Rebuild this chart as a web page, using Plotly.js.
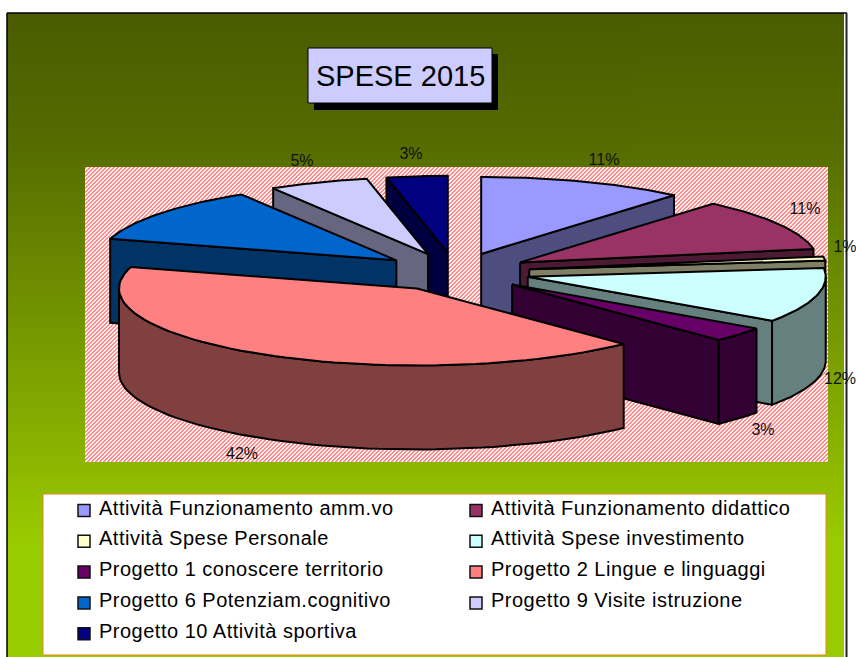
<!DOCTYPE html>
<html><head><meta charset="utf-8">
<script src="https://cdn.plot.ly/plotly-3.0.1.min.js"></script>
<style>html,body{margin:0;padding:0;background:#fff}#c{width:856px;height:657px}</style></head>
<body><div id="c"></div>
<script>
const categories=["Attività Funzionamento amm.vo","Attività Funzionamento didattico","Attività Spese Personale","Attività Spese investimento","Progetto 1 conoscere territorio","Progetto 2 Lingue e linguaggi","Progetto 6 Potenziam.cognitivo","Progetto 9 Visite istruzione","Progetto 10 Attività sportiva"];
const values=[11.2,11.0,1.0,11.5,3.1,41.7,11.8,5.4,3.3];
const shownLabels=[true,true,true,true,true,true,false,true,true];
const topColors=["#9999FF","#993366","#FFFFCC","#CCFFFF","#660066","#FF8080","#0066CC","#CCCCFF","#000080"];
const sideColors=["#4D4D80","#4D1A33","#808066","#668080","#330033","#804040","#003366","#666680","#000040"];
const labelAnchors=[[604,161],[805,210],[845,248],[840,380],[763,431],[242,455],[0,0],[302,162],[411,155]];
const drawOrder=[8,7,6,0,1,2,3,4,5];

const cx=455.5,cy=272,rx=298,ry=77,depth=84,explode=0.25;
const traces=[];
function face(pts,color){
  const c=pts.concat([pts[0]]);
  traces.push({type:"scatter",mode:"lines",x:c.map(p=>p[0]),y:c.map(p=>p[1]),fill:"toself",fillcolor:color,
    line:{color:"#000",width:2,shape:"linear"},hoverinfo:"skip",showlegend:false});
}
const rad=p=>p/100*2*Math.PI;
const total=values.reduce((a,b)=>a+b,0);
const starts=[];let acc=0;values.forEach(v=>{starts.push(acc);acc+=v/total*100;});
function slice(i){
  const p0=starts[i],p1=p0+values[i]/total*100,tm=rad((p0+p1)/2);
  const ax=cx+explode*rx*Math.sin(tm),ay=cy-explode*ry*Math.cos(tm);
  const pt=t=>[ax+rx*Math.sin(t),ay-ry*Math.cos(t)];
  const t0=rad(p0),t1=rad(p1);
  const down=p=>[p[0],p[1]+depth];
  const wall=(q)=>face([[ax,ay],q,down(q),[ax,ay+depth]],sideColors[i]);
  if(t0>Math.PI) wall(pt(t0));
  if(t1<Math.PI) wall(pt(t1));
  const a0=Math.max(t0,Math.PI/2),a1=Math.min(t1,1.5*Math.PI);
  if(a1>a0){
    const arc=[];const n=60;
    for(let k=0;k<=n;k++)arc.push(pt(a0+(a1-a0)*k/n));
    face(arc.concat(arc.slice().reverse().map(down)),sideColors[i]);
  }
  const topPts=[[ax,ay]];const n=60;
  for(let k=0;k<=n;k++)topPts.push(pt(t0+(t1-t0)*k/n));
  face(topPts,topColors[i]);
}
drawOrder.forEach(slice);

/* data labels */
const lbl=categories.map((c,i)=>i).filter(i=>shownLabels[i]);
traces.push({type:"scatter",mode:"text",x:lbl.map(i=>labelAnchors[i][0]),y:lbl.map(i=>labelAnchors[i][1]),
  text:lbl.map(i=>Math.round(values[i])+"%"),textposition:"middle center",cliponaxis:false,
  textfont:{family:"Liberation Sans, Arial, sans-serif",size:16,color:"#111"},hoverinfo:"skip",showlegend:false});

/* legend */
categories.forEach((c,i)=>{
  const col=i%2,row=Math.floor(i/2);
  traces.push({type:"scatter",mode:"markers",x:[col?476:84],y:[510.5+row*30.8],
    marker:{symbol:"square",size:12,color:topColors[i],line:{color:"#111",width:1.5}},
    hoverinfo:"skip",showlegend:false,cliponaxis:false});
  traces.push({type:"scatter",mode:"text",x:[col?491:99],y:[509.5+row*30.8],text:[c],textposition:"middle right",
    textfont:{family:"Liberation Sans, Arial, sans-serif",size:20,color:"#000"},hoverinfo:"skip",showlegend:false,cliponaxis:false});
});

function bg(){
  const k=document.createElement("canvas");k.width=2;k.height=644;const g=k.getContext("2d");
  const l=g.createLinearGradient(0,0,0,644);
  l.addColorStop(0,"#4A5C00");l.addColorStop(127/644,"#556B00");l.addColorStop(457/644,"#8DB800");l.addColorStop(530/644,"#99CC00");l.addColorStop(1,"#99CC00");
  g.fillStyle=l;g.fillRect(0,0,2,644);return k.toDataURL();
}
function hatch(w,h){
  const k=document.createElement("canvas");k.width=w;k.height=h;const g=k.getContext("2d");
  const d=g.createImageData(w,h);
  for(let y=0;y<h;y++)for(let x=0;x<w;x++){
    const m=(x+y)%4,o=(x+y*w)*4;
    const c=m<2?140:m==2?255:225;
    d.data[o]=255;d.data[o+1]=c;d.data[o+2]=c;d.data[o+3]=255;
  }
  g.putImageData(d,0,0);return k.toDataURL();
}
const layout={
  width:856,height:657,margin:{l:0,r:0,t:0,b:0},paper_bgcolor:"#fff",plot_bgcolor:"rgba(0,0,0,0)",showlegend:false,
  xaxis:{range:[0,856],visible:false,fixedrange:true},
  yaxis:{range:[657,0],visible:false,fixedrange:true},
  images:[
    {source:bg(),xref:"x",yref:"y",x:7,y:13,sizex:837,sizey:644,sizing:"stretch",layer:"below",xanchor:"left",yanchor:"top"},
    {source:hatch(743,295),xref:"x",yref:"y",x:85,y:167,sizex:743,sizey:295,sizing:"stretch",layer:"below",xanchor:"left",yanchor:"top"}
  ],
  shapes:[
    {type:"line",x0:7,x1:7,y0:13,y1:657,line:{color:"#000",width:1.5},layer:"between"},
    {type:"line",x0:7,x1:847,y0:13,y1:13,line:{color:"#000",width:1.5},layer:"between"},
    {type:"line",x0:846.5,x1:846.5,y0:13,y1:657,line:{color:"#222",width:2},layer:"between"},
    {type:"rect",x0:43,x1:826,y0:494,y1:655,fillcolor:"#fff",line:{color:"#E8841A",width:1},layer:"between"},
    {type:"rect",x0:314,x1:498,y0:54,y1:110,fillcolor:"#000",line:{width:0},layer:"between"},
    {type:"rect",x0:308,x1:492,y0:48,y1:103,fillcolor:"#CCCCFF",line:{color:"#000",width:1},layer:"between"}
  ],
  annotations:[{text:"SPESE 2015",x:400,y:75.5,xref:"x",yref:"y",showarrow:false,
    font:{family:"Liberation Sans, Arial, sans-serif",size:29,color:"#000"}}]
};
Plotly.newPlot("c",traces,layout,{displayModeBar:false,staticPlot:true}).then(()=>{
  document.querySelectorAll(".textpoint text").forEach(t=>{ if(t.textContent.length>5) t.style.letterSpacing="0.5px"; });
});
</script></body></html>
